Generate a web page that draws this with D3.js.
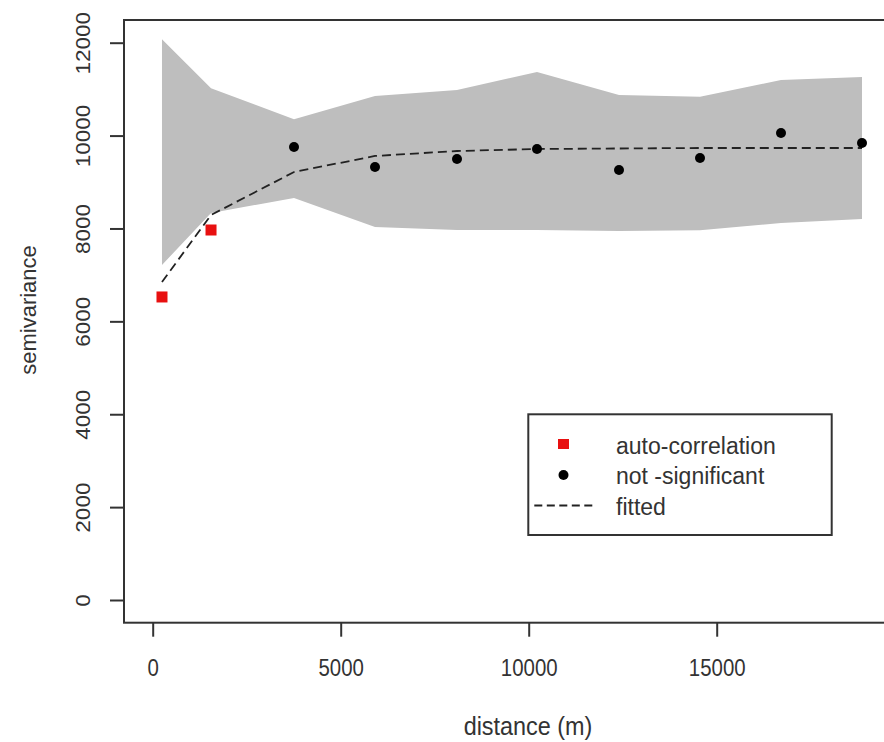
<!DOCTYPE html>
<html>
<head>
<meta charset="utf-8">
<script src="https://cdn.jsdelivr.net/npm/d3@7"></script>
<style>
  body { margin: 0; background: #fff; }
  text { font-family: "Liberation Sans", Arial, sans-serif; fill: #333; }
</style>
</head>
<body>
<div id="chart"></div>
<script>
// Chart size
var width = 884, height = 742;

// Data
var distance = [247, 1551, 3758, 5912, 8093, 10221, 12402, 14556, 16710, 18864];
var semivariance = [6525, 7967, 9755, 9324, 9496, 9711, 9259, 9518, 10056, 9841];
var pointType = ["auto-correlation", "auto-correlation", "not -significant", "not -significant",
    "not -significant", "not -significant", "not -significant", "not -significant",
    "not -significant", "not -significant"];
var fitted = [6848, 8290, 9216, 9561, 9668, 9711, 9722, 9733, 9733, 9733];
var envelopeUpper = [12074, 11018, 10351, 10853, 10982, 11370, 10874, 10838, 11197, 11262];
var envelopeLower = [7214, 8333, 8656, 8032, 7967, 7967, 7946, 7960, 8120, 8204];
var xTicks = [0, 5000, 10000, 15000];
var yTicks = [0, 2000, 4000, 6000, 8000, 10000, 12000];
var legendLabels = ["auto-correlation", "not -significant", "fitted"];

// Plot box
var box = {left: 124, top: 20, right: 892, bottom: 622.7};

// Scales
var x = d3.scaleLinear().domain([0, 15000]).range([152.7, 716.7]);
var y = d3.scaleLinear().domain([0, 12000]).range([600, 42.7]);

var svg = d3.select("#chart").append("svg")
    .attr("width", width)
    .attr("height", height);

var rows = distance.map((d, i) => ({
    d: d, g: semivariance[i], type: pointType[i],
    fit: fitted[i], hi: envelopeUpper[i], lo: envelopeLower[i]
}));

// Envelope
svg.append("path")
    .datum(rows)
    .attr("fill", "#bebebe")
    .attr("d", d3.area()
        .x(r => x(r.d))
        .y0(r => y(r.lo))
        .y1(r => y(r.hi)));

// Fitted line
svg.append("path")
    .datum(rows)
    .attr("fill", "none")
    .attr("stroke", "#222")
    .attr("stroke-width", 1.8)
    .attr("stroke-dasharray", "9,5")
    .attr("d", d3.line().x(r => x(r.d)).y(r => y(r.fit)));

// Points
svg.selectAll(".sq")
    .data(rows.filter(r => r.type === "auto-correlation"))
    .join("rect")
    .attr("class", "sq")
    .attr("x", r => x(r.d) - 5.5)
    .attr("y", r => y(r.g) - 5.5)
    .attr("width", 11)
    .attr("height", 11)
    .attr("fill", "#e81010");

svg.selectAll(".dot")
    .data(rows.filter(r => r.type === "not -significant"))
    .join("circle")
    .attr("class", "dot")
    .attr("cx", r => x(r.d))
    .attr("cy", r => y(r.g))
    .attr("r", 5)
    .attr("fill", "#000");

// Box
svg.append("rect")
    .attr("x", box.left)
    .attr("y", box.top)
    .attr("width", box.right - box.left)
    .attr("height", box.bottom - box.top)
    .attr("fill", "none")
    .attr("stroke", "#333")
    .attr("stroke-width", 2);

// Y axis
var gy = svg.append("g")
    .attr("transform", "translate(" + box.left + ",0)")
    .call(d3.axisLeft(y).tickValues(yTicks).tickSize(14).tickFormat(d3.format("d")));
gy.select(".domain").remove();
gy.selectAll("line").attr("stroke", "#333").attr("stroke-width", 2);
gy.selectAll("text")
    .attr("x", 0).attr("y", 0).attr("dy", 0)
    .attr("text-anchor", "middle")
    .attr("font-size", 22.5)
    .attr("transform", "translate(-34,0) rotate(-90) scale(1,0.9)");

// X axis
var gx = svg.append("g")
    .attr("transform", "translate(0," + box.bottom + ")")
    .call(d3.axisBottom(x).tickValues(xTicks).tickSize(14).tickFormat(d3.format("d")));
gx.select(".domain").remove();
gx.selectAll("line").attr("stroke", "#333").attr("stroke-width", 2);
gx.selectAll("text")
    .attr("x", 0).attr("y", 0).attr("dy", 0)
    .attr("text-anchor", "middle")
    .attr("font-size", 24)
    .attr("transform", "translate(0,53.3) scale(0.85,1)");

// Axis titles
svg.append("text")
    .attr("text-anchor", "middle")
    .attr("font-size", 26)
    .attr("transform", "translate(528,735) scale(0.9,1)")
    .text("distance (m)");

svg.append("text")
    .attr("text-anchor", "middle")
    .attr("font-size", 22)
    .attr("transform", "translate(36,310) rotate(-90)")
    .text("semivariance");

// Legend
var lg = svg.append("g").attr("transform", "translate(528.3,414.3)");
lg.append("rect")
    .attr("width", 303.4)
    .attr("height", 120.7)
    .attr("fill", "#fff")
    .attr("stroke", "#333")
    .attr("stroke-width", 2);

lg.append("rect")
    .attr("x", 35.2 - 5.5).attr("y", 29.7 - 5)
    .attr("width", 11).attr("height", 10)
    .attr("fill", "#e81010");
lg.append("circle")
    .attr("cx", 35.2).attr("cy", 60.7).attr("r", 5)
    .attr("fill", "#000");
lg.append("line")
    .attr("x1", 6).attr("x2", 64)
    .attr("y1", 91.2).attr("y2", 91.2)
    .attr("stroke", "#222")
    .attr("stroke-width", 1.8)
    .attr("stroke-dasharray", "8,4.5");

lg.selectAll(".lt")
    .data(legendLabels)
    .join("text")
    .attr("class", "lt")
    .attr("x", 87.7)
    .attr("y", (d, i) => 39.7 + i * 30.5)
    .attr("font-size", 23)
    .text(d => d);
</script>
</body>
</html>
